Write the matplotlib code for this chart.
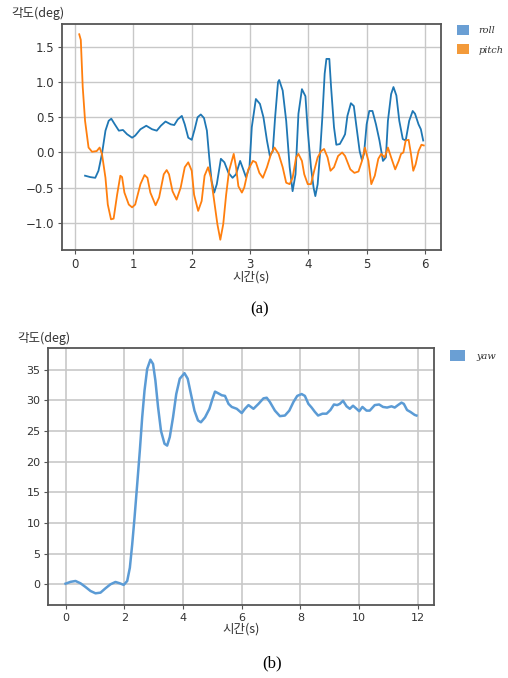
import matplotlib
matplotlib.use("Agg")
import matplotlib.pyplot as plt
from matplotlib.patches import Patch

plt.rcParams['font.family'] = ['DejaVu Sans', 'Noto Sans CJK KR']

# ---- data (a) ----
roll_t = [0.17, 0.26, 0.345, 0.40, 0.46, 0.52, 0.575, 0.62, 0.68, 0.75, 0.82, 0.89, 0.977, 1.03, 1.12, 1.22,
          1.32, 1.40, 1.47, 1.55, 1.64, 1.70, 1.76, 1.83, 1.88, 1.94, 2.00, 2.05, 2.10, 2.155, 2.21, 2.26,
          2.30, 2.34, 2.385, 2.43, 2.50, 2.56, 2.63, 2.70, 2.76, 2.83, 2.87, 2.93, 2.99, 3.03, 3.10, 3.17,
          3.23, 3.29, 3.34, 3.39, 3.43, 3.48, 3.50, 3.56, 3.62, 3.68, 3.73, 3.78, 3.83, 3.89, 3.95, 3.99,
          4.045, 4.09, 4.12, 4.16, 4.20, 4.24, 4.28, 4.31, 4.36, 4.39, 4.44, 4.48, 4.54, 4.60, 4.63, 4.67,
          4.73, 4.78, 4.82, 4.88, 4.92, 4.955, 5.00, 5.045, 5.10, 5.16, 5.22, 5.28, 5.33, 5.365, 5.42, 5.46,
          5.51, 5.56, 5.62, 5.67, 5.73, 5.79, 5.83, 5.89, 5.93, 5.97]
roll_v = [-0.33, -0.35, -0.36, -0.26, -0.02, 0.31, 0.45, 0.48, 0.40, 0.31, 0.32, 0.26, 0.21, 0.24, 0.33, 0.38,
          0.33, 0.31, 0.38, 0.44, 0.40, 0.39, 0.47, 0.52, 0.40, 0.21, 0.18, 0.33, 0.50, 0.54, 0.49, 0.31,
          -0.07, -0.40, -0.57, -0.45, -0.09, -0.14, -0.29, -0.36, -0.31, -0.12, -0.21, -0.35, -0.21, 0.36, 0.76, 0.69,
          0.50, 0.17, -0.05, 0.02, 0.50, 1.00, 1.03, 0.88, 0.45, -0.21, -0.55, -0.31, 0.55, 0.90, 0.80, 0.31,
          -0.21, -0.50, -0.62, -0.45, -0.02, 0.50, 1.12, 1.33, 1.33, 0.93, 0.36, 0.11, 0.12, 0.21, 0.26, 0.52,
          0.70, 0.66, 0.40, 0.02, -0.11, -0.02, 0.40, 0.59, 0.59, 0.40, 0.17, -0.12, -0.07, 0.45, 0.83, 0.93,
          0.81, 0.45, 0.19, 0.17, 0.45, 0.59, 0.55, 0.40, 0.33, 0.17]

pitch_t = [0.07, 0.097, 0.13, 0.17, 0.23, 0.29, 0.37, 0.42, 0.46, 0.52, 0.56, 0.615, 0.66, 0.72, 0.775, 0.805,
           0.845, 0.92, 0.977, 1.03, 1.12, 1.19, 1.24, 1.29, 1.38, 1.44, 1.52, 1.57, 1.61, 1.67, 1.74, 1.81,
           1.88, 1.94, 2.00, 2.04, 2.11, 2.17, 2.22, 2.28, 2.33, 2.385, 2.44, 2.49, 2.54, 2.59, 2.64, 2.72,
           2.76, 2.80, 2.86, 2.90, 2.97, 3.05, 3.10, 3.16, 3.22, 3.29, 3.36, 3.42, 3.49, 3.56, 3.62, 3.68,
           3.73, 3.79, 3.83, 3.89, 3.93, 3.99, 4.045, 4.10, 4.16, 4.22, 4.27, 4.33, 4.38, 4.44, 4.51, 4.58,
           4.63, 4.72, 4.79, 4.86, 4.92, 4.97, 5.03, 5.08, 5.14, 5.20, 5.25, 5.31, 5.365, 5.42, 5.49, 5.55,
           5.59, 5.63, 5.67, 5.72, 5.76, 5.80, 5.84, 5.89, 5.94, 5.98]
pitch_v = [1.68, 1.60, 0.93, 0.45, 0.07, 0.01, 0.02, 0.07, -0.02, -0.36, -0.74, -0.95, -0.94, -0.60, -0.33, -0.35,
           -0.57, -0.74, -0.78, -0.74, -0.45, -0.32, -0.36, -0.57, -0.75, -0.64, -0.31, -0.25, -0.31, -0.55, -0.67, -0.50,
           -0.21, -0.14, -0.26, -0.60, -0.83, -0.69, -0.33, -0.21, -0.36, -0.69, -1.02, -1.24, -1.02, -0.60, -0.26, -0.02,
           -0.21, -0.48, -0.57, -0.50, -0.24, -0.12, -0.14, -0.29, -0.36, -0.21, -0.02, 0.07, -0.02, -0.21, -0.43, -0.45,
           -0.36, -0.07, -0.02, -0.12, -0.31, -0.45, -0.45, -0.26, -0.07, 0.02, 0.05, -0.07, -0.26, -0.21, -0.05, 0.00,
           -0.05, -0.24, -0.29, -0.27, -0.12, 0.07, -0.12, -0.45, -0.33, -0.09, -0.02, -0.07, 0.07, -0.07, -0.24, -0.12,
           -0.02, 0.00, 0.17, 0.18, -0.02, -0.26, -0.17, 0.02, 0.11, 0.10]

# ---- data (b) ----
yaw_t = [0.00, 0.17, 0.34, 0.51, 0.68, 0.85, 1.02, 1.19, 1.36, 1.53, 1.70, 1.85, 1.98, 2.10, 2.19, 2.27, 2.35,
         2.44, 2.53, 2.61, 2.69, 2.78, 2.89, 2.98, 3.06, 3.15, 3.25, 3.37, 3.46, 3.55, 3.66, 3.77, 3.89, 4.05,
         4.16, 4.27, 4.39, 4.51, 4.61, 4.75, 4.90, 5.01, 5.09, 5.21, 5.32, 5.43, 5.55, 5.66, 5.83, 6.00, 6.11,
         6.23, 6.40, 6.57, 6.74, 6.85, 6.96, 7.13, 7.30, 7.47, 7.62, 7.76, 7.89, 8.04, 8.15, 8.27, 8.38, 8.49,
         8.60, 8.75, 8.89, 9.02, 9.14, 9.25, 9.34, 9.45, 9.57, 9.68, 9.79, 9.91, 10.00, 10.11, 10.25, 10.36,
         10.53, 10.68, 10.81, 10.95, 11.10, 11.21, 11.32, 11.44, 11.52, 11.63, 11.74, 11.89, 11.95]
yaw_v = [0.1, 0.4, 0.54, 0.16, -0.44, -1.09, -1.47, -1.36, -0.65, 0.0, 0.38, 0.16, -0.1, 0.54, 2.7, 6.5, 10.9,
         16.3, 21.8, 27.2, 31.6, 35.1, 36.6, 35.9, 33.2, 28.9, 25.0, 22.9, 22.6, 24.0, 27.2, 31.0, 33.5, 34.4,
         33.5, 31.0, 28.3, 26.7, 26.4, 27.2, 28.6, 30.3, 31.4, 31.1, 30.8, 30.7, 29.4, 28.9, 28.6, 27.9, 28.6,
         29.2, 28.6, 29.4, 30.3, 30.4, 29.7, 28.3, 27.4, 27.5, 28.3, 29.7, 30.7, 31.0, 30.7, 29.4, 28.8, 28.1,
         27.5, 27.8, 27.8, 28.4, 29.3, 29.2, 29.4, 29.9, 29.0, 28.6, 29.1, 28.6, 28.2, 28.9, 28.3, 28.3,
         29.2, 29.3, 28.9, 28.8, 29.0, 28.8, 29.2, 29.6, 29.4, 28.4, 28.1, 27.6, 27.5]

xticks_a = [0, 1, 2, 3, 4, 5, 6]
yticks_a = [-1.0, -0.5, 0.0, 0.5, 1.0, 1.5]
xticks_b = [0, 2, 4, 6, 8, 10, 12]
yticks_b = [0, 5, 10, 15, 20, 25, 30, 35]

fig = plt.figure(figsize=(5.08, 6.78), dpi=100)
W, H = 508, 678
KR = ['Noto Sans CJK KR', 'DejaVu Sans']

def style(ax, size, gw):
    ax.grid(True, color='#c8c8c8', linewidth=gw)
    ax.set_axisbelow(True)
    for s in ax.spines.values():
        s.set_color('#555555')
        s.set_linewidth(1.3)
    ax.tick_params(labelsize=size, labelcolor='#333333', color='#555555', length=3, width=0.8, pad=2.5)

# (a)
ax1 = fig.add_axes([62 / W, 1 - 250 / H, (441 - 62) / W, (250 - 24) / H])
ax1.plot(roll_t, roll_v, color='#1f77b4', linewidth=1.3)
ax1.plot(pitch_t, pitch_v, color='#ff7f0e', linewidth=1.3)
ax1.set_xticks(xticks_a)
ax1.set_yticks(yticks_a)
style(ax1, 8.5, 1.0)
ax1.set_xlabel('시간(s)', fontsize=9, color='#333333', labelpad=0, family=KR)
fig.text(38 / W, 1 - 13 / H, '각도(deg)', fontsize=9, color='#333333', ha='center', va='center', family=KR)
h1 = [Patch(facecolor='#6a9fd4', edgecolor='none'), Patch(facecolor='#f39a3a', edgecolor='none')]
ax1.legend(h1, ['roll', 'pitch'], loc='upper left', bbox_to_anchor=(1.02, 1.035), frameon=False,
           prop={'family': 'DejaVu Serif', 'style': 'italic', 'size': 7}, handlelength=1.2, handleheight=1.2,
           labelspacing=0.95, handletextpad=1.0, labelcolor='#333333')
fig.text(260 / W, 1 - 309 / H, '(a)', fontsize=12, ha='center', va='center', family='Liberation Serif')

# (b)
ax2 = fig.add_axes([48 / W, 1 - 605 / H, (434 - 48) / W, (605 - 348) / H])
ax2.plot(yaw_t, yaw_v, color='#5b9bd5', linewidth=1.8)
ax2.set_xticks(xticks_b)
ax2.set_yticks(yticks_b)
style(ax2, 8, 1.2)
ax2.set_xlabel('시간(s)', fontsize=9, color='#333333', labelpad=0, family=KR)
fig.text(44 / W, 1 - 338 / H, '각도(deg)', fontsize=9, color='#333333', ha='center', va='center', family=KR)
h2 = [Patch(facecolor='#6a9fd4', edgecolor='none')]
ax2.legend(h2, ['yaw'], loc='upper left', bbox_to_anchor=(1.02, 1.025), frameon=False,
           prop={'family': 'DejaVu Serif', 'style': 'italic', 'size': 7}, handlelength=1.45, handleheight=1.35,
           handletextpad=1.2, labelcolor='#333333')
fig.text(272 / W, 1 - 663 / H, '(b)', fontsize=12, ha='center', va='center', family='Liberation Serif')

fig.savefig('out.png', dpi=100)
